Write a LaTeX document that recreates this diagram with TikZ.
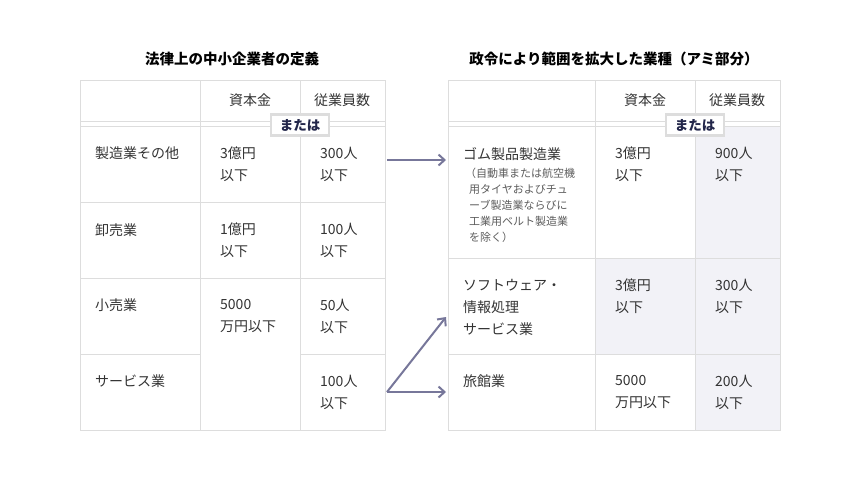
\documentclass[tikz,border=0pt]{standalone}
\usepackage{fontspec}
\setmainfont{Noto Sans CJK JP}
\usetikzlibrary{arrows.meta}
\definecolor{grid}{HTML}{DDDDDD}
\definecolor{cellshade}{HTML}{F2F2F7}
\definecolor{arr}{HTML}{77779A}
\definecolor{txt}{HTML}{333333}
\definecolor{navy}{HTML}{22264A}
\tikzset{
 cell/.style={anchor=north west,align=left,inner sep=0pt,font=\fontsize{14}{22}\selectfont,text=txt},
 small/.style={anchor=north west,align=left,inner sep=0pt,font=\fontsize{11}{16}\selectfont,text=txt!80},
 head/.style={inner sep=0pt,font=\fontsize{14}{16}\selectfont,text=txt},
 ttl/.style={inner sep=0pt,font=\bfseries\fontsize{14.5}{16}\selectfont,text=black},
 badge/.style={draw=grid,line width=2.5pt,fill=white,minimum width=58pt,minimum height=21pt,inner sep=0pt,font=\bfseries\fontsize{13.5}{16}\selectfont,text=navy},
 gl/.style={draw=grid,line width=1pt},
 conn/.style={draw=arr,line width=2pt,-{Straight Barb[length=6pt,width=11pt]}}
}
\begin{document}
\begin{tikzpicture}[x=1pt,y=-1pt]
\useasboundingbox (0,0) rectangle (860,480);
% shading
\fill[cellshade] (695,126) rectangle (780,258);
\fill[cellshade] (595,258) rectangle (780,354);
\fill[cellshade] (695,354) rectangle (780,430);
% left grid
\draw[gl] (80,80) rectangle (385,430);
\draw[gl] (200,80) -- (200,430) (300,80) -- (300,430);
\draw[gl] (80,121) -- (385,121) (80,126) -- (385,126);
\draw[gl] (80,202) -- (385,202) (80,278) -- (385,278);
\draw[gl] (80,354) -- (200,354) (300,354) -- (385,354);
% right grid
\draw[gl] (448,80) rectangle (780,430);
\draw[gl] (595,80) -- (595,430) (695,80) -- (695,430);
\draw[gl] (448,121) -- (780,121) (448,126) -- (780,126);
\draw[gl] (448,258) -- (780,258) (448,354) -- (780,354);
% titles
\node[ttl] (t1) at (232,59) {法律上の中小企業者の定義};
\node[ttl] (t2) at (614,59) {政令により範囲を拡大した業種（アミ部分）};
% headers
\node[head] (h1) at (250,100) {資本金};
\node[head] (h2) at (342,100) {従業員数};
\node[head] (h3) at (645,100) {資本金};
\node[head] (h4) at (737,100) {従業員数};
% left cells
\node[cell] (a1) at (95,147) {製造業その他};
\node[cell] (a2) at (220,147) {3億円\\以下};
\node[cell] (a3) at (320,147) {300人\\以下};
\node[cell] (b1) at (95,223) {卸売業};
\node[cell] (b2) at (220,223) {1億円\\以下};
\node[cell] (b3) at (320,223) {100人\\以下};
\node[cell] (c1) at (95,299) {小売業};
\node[cell] (c2) at (220,299) {5000\\万円以下};
\node[cell] (c3) at (320,299) {50人\\以下};
\node[cell] (d1) at (95,375) {サービス業};
\node[cell] (d3) at (320,375) {100人\\以下};
% right cells
\node[cell] (e1) at (463,147) {ゴム製品製造業};
\node[small] (e1s) at (465,168) {（自動車または航空機\\\hspace{4pt}用タイヤおよびチュ\\\hspace{4pt}ーブ製造業ならびに\\\hspace{4pt}工業用ベルト製造業\\\hspace{4pt}を除く）};
\node[cell] (e2) at (615,147) {3億円\\以下};
\node[cell] (e3) at (715,147) {900人\\以下};
\node[cell] (f1) at (463,279) {ソフトウェア・\\情報処理\\サービス業};
\node[cell] (f2) at (615,279) {3億円\\以下};
\node[cell] (f3) at (715,279) {300人\\以下};
\node[cell] (g1) at (463,375) {旅館業};
\node[cell] (g2) at (615,375) {5000\\万円以下};
\node[cell] (g3) at (715,375) {200人\\以下};
% badges
\node[badge] (m1) at (300,125) {または};
\node[badge] (m2) at (695,125) {または};
% arrows
\coordinate (s1) at (387,160);
\coordinate (s2) at (387,392);
\coordinate (e1p) at (446,160);
\coordinate (e2p) at (446,317);
\coordinate (e3p) at (446,392);
\draw[conn] (s1) -- (e1p);
\draw[conn] (s2) -- (e2p);
\draw[conn] (s2) -- (e3p);
\end{tikzpicture}
\end{document}
